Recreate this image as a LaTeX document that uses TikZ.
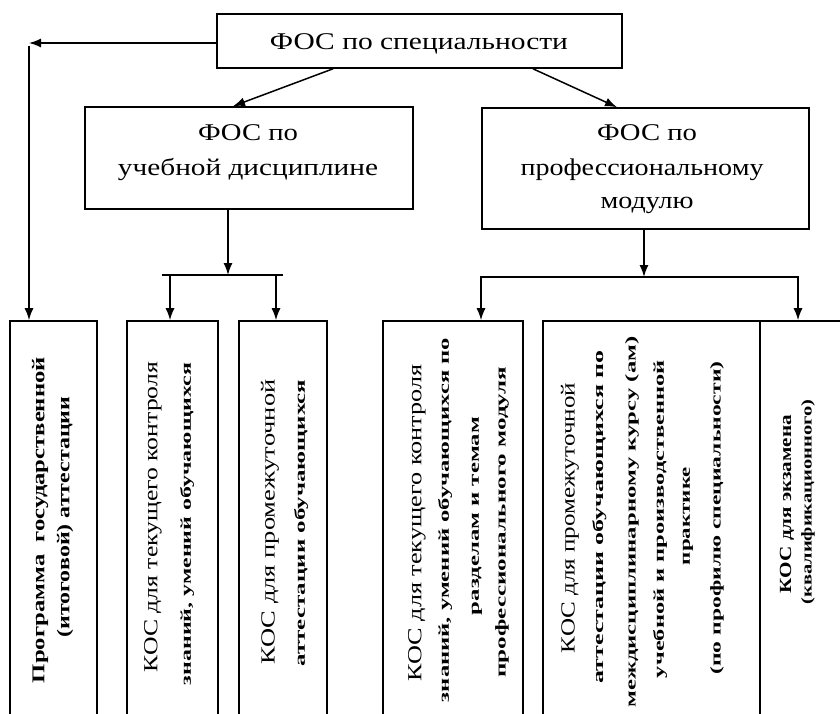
\documentclass[tikz,border=0pt]{standalone}
\usepackage{fontspec}
\setmainfont{Liberation Serif}
\usepackage{graphicx}
\usetikzlibrary{arrows.meta}
\newcommand\fw[2]{\resizebox{#1pt}{\height}{#2}}
\begin{document}
\begin{tikzpicture}[x=1pt,y=-1pt,line width=1.6pt,
  box/.style={draw,rectangle,inner sep=0pt,line width=1.6pt},
  arr/.style={-{Latex[length=12pt,width=9pt]},line width=1.5pt},
  ln/.style={line width=1.5pt},
  htxt/.style={anchor=base,inner sep=0pt,font=\fontsize{24}{24}\selectfont},
  vbig/.style={rotate=90,anchor=center,inner sep=0pt,font=\fontsize{20}{20}\selectfont},
  vsmall/.style={rotate=90,anchor=center,inner sep=0pt,font=\fontsize{15}{15}\selectfont\bfseries},
  vbold/.style={rotate=90,anchor=center,inner sep=0pt,font=\fontsize{18}{18}\selectfont\bfseries}]
\useasboundingbox (0,0) rectangle (840,713);
\clip (0,0) rectangle (840,713);
\fill[white] (0,0) rectangle (840,713);
% boxes
\node[box,minimum width=405pt,minimum height=54pt] (top) at (419.5,41) {};
\node[box,minimum width=328pt,minimum height=102pt] (ml) at (249,158) {};
\node[box,minimum width=327pt,minimum height=121pt] (mr) at (645.5,168.5) {};
\node[box,minimum width=87pt,minimum height=419pt] (b1) at (53.5,530.5) {};
\node[box,minimum width=91pt,minimum height=419pt] (b2) at (172.5,530.5) {};
\node[box,minimum width=88pt,minimum height=419pt] (b3) at (283,530.5) {};
\node[box,minimum width=140pt,minimum height=419pt] (b4) at (453,530.5) {};
\node[box,minimum width=217pt,minimum height=419pt] (b5) at (651.5,530.5) {};
\node[box,minimum width=120pt,minimum height=419pt] (b6) at (820,530.5) {};
% horizontal texts
\node[htxt] (t0) at (419,49) {\fw{298}{ФОС по специальности}};
\node[htxt] (t1a) at (248,140) {\fw{100}{ФОС по}};
\node[htxt] (t1b) at (248,175) {\fw{260}{учебной дисциплине}};
\node[htxt] (t2a) at (647,140) {\fw{100}{ФОС по}};
\node[htxt] (t2b) at (642,175) {\fw{243}{профессиональному}};
\node[htxt] (t2c) at (647,208) {\fw{93}{модулю}};
% vertical texts
\node[vbold] (v1a) at (40,520) {\fw{326}{Программа\ \ государственной}};
\node[vbold] (v1b) at (65,517) {\fw{241}{(итоговой) аттестации}};
\node[vbig] (v2a) at (153,517) {\fw{310}{КОС для текущего контроля}};
\node[vsmall] (v2b) at (187,524) {\fw{322}{знаний, умений обучающихся}};
\node[vbig] (v3a) at (270,522) {\fw{285}{КОС для промежуточной}};
\node[vsmall] (v3b) at (301,523) {\fw{287}{аттестации обучающихся}};
\node[vbig] (v4a) at (417,523) {\fw{317}{КОС для текущего контроля}};
\node[vsmall] (v4b) at (445,520) {\fw{364}{знаний, умений обучающихся по}};
\node[vsmall] (v4c) at (477,516) {\fw{198}{разделам и темам}};
\node[vsmall] (v4d) at (502,522) {\fw{311}{профессионального модуля}};
\node[vbig] (v5a) at (570,518) {\fw{270}{КОС для промежуточной}};
\node[vsmall] (v5b) at (600,517) {\fw{333}{аттестации обучающихся по}};
\node[vsmall] (v5c) at (632,522) {\fw{371}{междисциплинарному курсу (ам)}};
\node[vsmall] (v5d) at (660,519) {\fw{318}{учебной и производственной}};
\node[vsmall] (v5e) at (688,516) {\fw{98}{практике}};
\node[vsmall] (v5f) at (717,518) {\fw{313}{(по профилю специальности)}};
\node[vbold,font=\fontsize{17}{17}\selectfont\bfseries] (v6a) at (787,504) {\fw{178}{КОС для экзамена}};
\node[vsmall] (v6b) at (808,502) {\fw{205}{(квалификационного)}};
% connectors
\coordinate (cL) at (29,43);
\draw[arr] (top.west |- cL) -- (cL);
\draw[arr] ([yshift=-3pt]cL) -- (cL |- b1.north);
\draw[arr] ([xshift=-86.5pt]top.south) -- ([xshift=-16pt]ml.north);
\draw[arr] ([xshift=113.5pt]top.south) -- ([xshift=-28.5pt]mr.north);
% left branch
\coordinate (barL) at (228,275);
\coordinate (bl1) at (162,275);
\coordinate (bl2) at (283,275);
\coordinate (d2) at (170,275);
\coordinate (d3) at (276,275);
\draw[arr] (ml.south -| barL) -- (barL);
\draw[ln] (bl1) -- (bl2);
\draw[arr] (d2) -- (d2 |- b2.north);
\draw[arr] (d3) -- (d3 |- b3.north);
% right branch
\coordinate (barR) at (644,277);
\coordinate (d4) at (481,277);
\coordinate (d6) at (798,277);
\draw[arr] (mr.south -| barR) -- (barR);
\draw[ln,line cap=rect] (d4) -- (d6);
\draw[arr] (d4) -- (d4 |- b4.north);
\draw[arr] (d6) -- (d6 |- b6.north);
\end{tikzpicture}
\end{document}
